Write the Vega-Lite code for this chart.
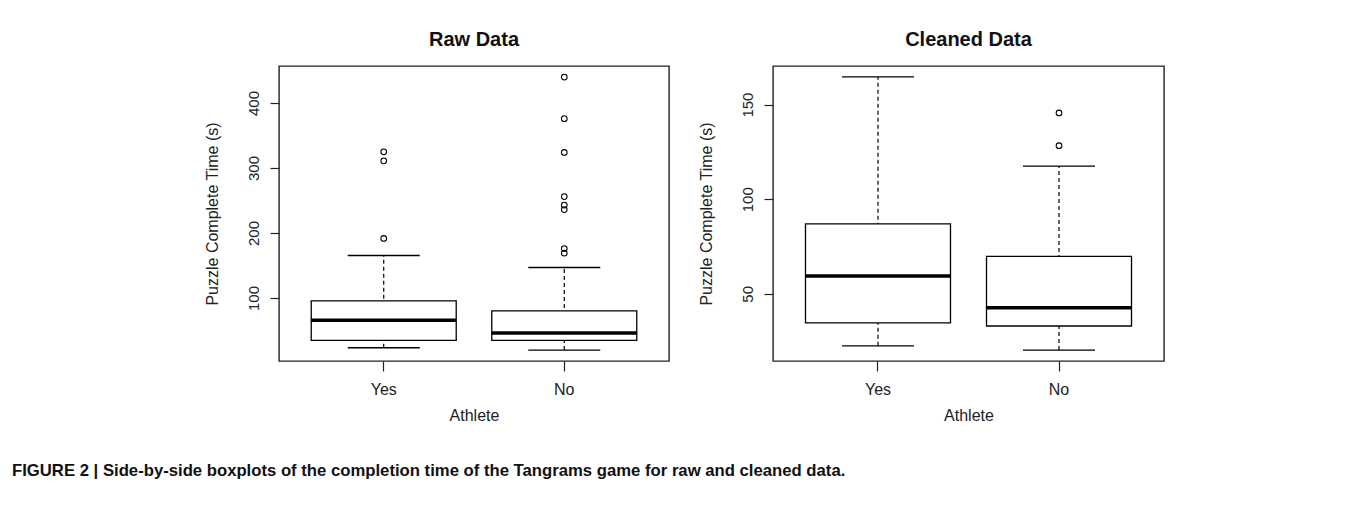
{
  "$schema": "https://vega.github.io/schema/vega-lite/v6.json",
  "background": "white",
  "padding": {"left": 12, "top": 29, "right": 0, "bottom": 0},
  "autosize": {"type": "pad"},
  "datasets": {
    "boxes": [
      {"panel": "Raw Data", "athlete": "Yes", "lower": 23.4, "q1": 34.7, "median": 65.6, "q3": 95.4, "upper": 165.4},
      {"panel": "Raw Data", "athlete": "No", "lower": 19.8, "q1": 34.7, "median": 46.0, "q3": 80.0, "upper": 146.9},
      {"panel": "Cleaned Data", "athlete": "Yes", "lower": 22.5, "q1": 34.6, "median": 59.4, "q3": 87.0, "upper": 164.6},
      {"panel": "Cleaned Data", "athlete": "No", "lower": 20.3, "q1": 33.0, "median": 42.7, "q3": 69.8, "upper": 117.5}
    ],
    "outliers": [
      {"panel": "Raw Data", "athlete": "Yes", "value": 191.6},
      {"panel": "Raw Data", "athlete": "Yes", "value": 311},
      {"panel": "Raw Data", "athlete": "Yes", "value": 325},
      {"panel": "Raw Data", "athlete": "No", "value": 440},
      {"panel": "Raw Data", "athlete": "No", "value": 376},
      {"panel": "Raw Data", "athlete": "No", "value": 324},
      {"panel": "Raw Data", "athlete": "No", "value": 256},
      {"panel": "Raw Data", "athlete": "No", "value": 243},
      {"panel": "Raw Data", "athlete": "No", "value": 236},
      {"panel": "Raw Data", "athlete": "No", "value": 176},
      {"panel": "Raw Data", "athlete": "No", "value": 169},
      {"panel": "Cleaned Data", "athlete": "No", "value": 145.6},
      {"panel": "Cleaned Data", "athlete": "No", "value": 128.3}
    ]
  },
  "title": {
    "text": "FIGURE 2 | Side-by-side boxplots of the completion time of the Tangrams game for raw and cleaned data.",
    "orient": "bottom",
    "anchor": "start",
    "frame": "group",
    "dx": -267,
    "offset": 39,
    "font": "Liberation Sans",
    "fontWeight": "bold",
    "fontSize": 16.7,
    "color": "#111111"
  },
  "spacing": 27,
  "hconcat": [
    {
      "width": 390,
      "height": 295,
      "title": {"text": "Raw Data"},
      "data": {"name": "boxes"},
      "transform": [{"filter": "datum.panel === 'Raw Data'"}],
      "encoding": {
        "x": {"field": "athlete", "type": "nominal", "sort": ["Yes", "No"], "title": "Athlete",
              "scale": {"paddingInner": 0, "paddingOuter": 0.08}}
      },
      "layer": [
        {
          "mark": {"type": "rule", "strokeDash": [4, 3], "color": "black", "strokeWidth": 1.2},
          "encoding": {
            "y": {"field": "lower", "type": "quantitative", "title": "Puzzle Complete Time (s)",
                  "scale": {"domain": [3, 457], "nice": false, "zero": false},
                  "axis": {"values": [100, 200, 300, 400]}},
            "y2": {"field": "upper"}
          }
        },
        {
          "mark": {"type": "bar", "size": 145, "fill": "white", "stroke": "black", "strokeWidth": 1.3},
          "encoding": {"y": {"field": "q1", "type": "quantitative"}, "y2": {"field": "q3"}}
        },
        {
          "mark": {"type": "tick", "size": 72, "thickness": 1.3, "color": "black", "opacity": 1},
          "encoding": {"y": {"field": "lower", "type": "quantitative"}}
        },
        {
          "mark": {"type": "tick", "size": 72, "thickness": 1.3, "color": "black", "opacity": 1},
          "encoding": {"y": {"field": "upper", "type": "quantitative"}}
        },
        {
          "mark": {"type": "tick", "size": 145, "thickness": 3.5, "color": "black", "opacity": 1},
          "encoding": {"y": {"field": "median", "type": "quantitative"}}
        },
        {
          "data": {"name": "outliers"},
          "transform": [{"filter": "datum.panel === 'Raw Data'"}],
          "mark": {"type": "point", "shape": "circle", "size": 32, "filled": false, "stroke": "black", "strokeWidth": 1.1, "opacity": 1},
          "encoding": {"y": {"field": "value", "type": "quantitative"}}
        }
      ]
    },
    {
      "width": 391,
      "height": 295,
      "title": {"text": "Cleaned Data"},
      "data": {"name": "boxes"},
      "transform": [{"filter": "datum.panel === 'Cleaned Data'"}],
      "encoding": {
        "x": {"field": "athlete", "type": "nominal", "sort": ["Yes", "No"], "title": "Athlete",
              "scale": {"paddingInner": 0, "paddingOuter": 0.08}}
      },
      "layer": [
        {
          "mark": {"type": "rule", "strokeDash": [4, 3], "color": "black", "strokeWidth": 1.2},
          "encoding": {
            "y": {"field": "lower", "type": "quantitative", "title": "Puzzle Complete Time (s)",
                  "scale": {"domain": [14.5, 170.4], "nice": false, "zero": false},
                  "axis": {"values": [50, 100, 150]}},
            "y2": {"field": "upper"}
          }
        },
        {
          "mark": {"type": "bar", "size": 145, "fill": "white", "stroke": "black", "strokeWidth": 1.3},
          "encoding": {"y": {"field": "q1", "type": "quantitative"}, "y2": {"field": "q3"}}
        },
        {
          "mark": {"type": "tick", "size": 72, "thickness": 1.3, "color": "black", "opacity": 1},
          "encoding": {"y": {"field": "lower", "type": "quantitative"}}
        },
        {
          "mark": {"type": "tick", "size": 72, "thickness": 1.3, "color": "black", "opacity": 1},
          "encoding": {"y": {"field": "upper", "type": "quantitative"}}
        },
        {
          "mark": {"type": "tick", "size": 145, "thickness": 3.5, "color": "black", "opacity": 1},
          "encoding": {"y": {"field": "median", "type": "quantitative"}}
        },
        {
          "data": {"name": "outliers"},
          "transform": [{"filter": "datum.panel === 'Cleaned Data'"}],
          "mark": {"type": "point", "shape": "circle", "size": 32, "filled": false, "stroke": "black", "strokeWidth": 1.1, "opacity": 1},
          "encoding": {"y": {"field": "value", "type": "quantitative"}}
        }
      ]
    }
  ],
  "config": {
    "font": "Liberation Sans",
    "view": {"stroke": "#222222", "strokeWidth": 1.4},
    "title": {"fontSize": 20, "fontWeight": "bold", "color": "#111111", "offset": 16, "anchor": "middle"},
    "axis": {
      "domain": false,
      "grid": false,
      "tickColor": "#222222",
      "tickWidth": 1.2,
      "labelColor": "#222222",
      "titleColor": "#222222",
      "labelFontSize": 15,
      "titleFontSize": 16,
      "titleFontWeight": "normal"
    },
    "axisX": {"labelAngle": 0, "tickSize": 10, "labelPadding": 10, "titlePadding": 10, "labelFontSize": 16},
    "axisY": {"labelAngle": 270, "labelAlign": "center", "labelBaseline": "bottom", "tickSize": 9, "labelPadding": 9, "titlePadding": 26}
  }
}
